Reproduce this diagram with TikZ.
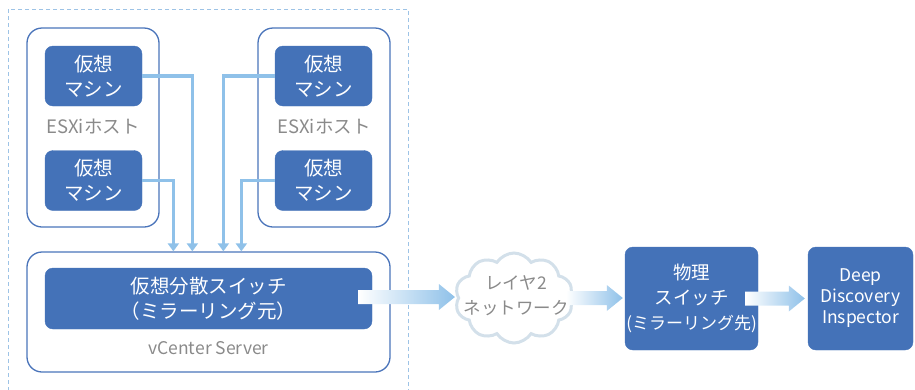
\documentclass[tikz,border=0pt]{standalone}
\usepackage{fontspec}
\setmainfont{Noto Sans CJK JP}
\usetikzlibrary{shapes.symbols,calc,arrows.meta}
\definecolor{dblue}{HTML}{4472B8}
\definecolor{bline}{HTML}{4A74BA}
\definecolor{ablue}{HTML}{8FC1E9}
\definecolor{dashc}{HTML}{9DC3E6}
\definecolor{graytxt}{HTML}{8A8A8A}
\definecolor{cloudc}{HTML}{D3E0EA}
\newcommand\fatarrow[2]{%
  \shade[left color=white,right color=ablue]
    let \p1=(#1), \p2=(#2) in
    (\x1,{\y1+7pt}) -- ({\x2-16pt},{\y1+7pt}) -- ({\x2-16pt},{\y1+13pt}) --
    (\x2,\y1) -- ({\x2-16pt},{\y1-13pt}) -- ({\x2-16pt},{\y1-7pt}) --
    (\x1,{\y1-7pt}) -- cycle;}
\begin{document}
\begin{tikzpicture}[x=1pt,y=-1pt,
  vmbox/.style={fill=dblue,draw=dblue,rounded corners=8pt,minimum width=97pt,minimum height=60pt,
    inner sep=0pt,align=center,text=white,font=\fontsize{19.5}{25}\selectfont},
  hostbox/.style={draw=bline,line width=1.3pt,rounded corners=15pt,minimum width=132pt,minimum height=199pt,inner sep=0pt},
  glabel/.style={text=graytxt,inner sep=0pt},
  flow/.style={draw=ablue,line width=3.5pt,-{Triangle[length=8pt,width=11pt]}},
]
\useasboundingbox (0,0) rectangle (915,389);
\begin{scope}
  \clip (0,0) rectangle (915,389);
  \draw[dashc,line width=1pt,dash pattern=on 4pt off 3pt] (8,9) rectangle (408,400);
\end{scope}

% ESXi hosts
\node[hostbox] (h1) at (93,127.5) {};
\node[hostbox] (h2) at (324,127.5) {};
\node[glabel,font=\fontsize{18.5}{22}\selectfont] (l1) at (93,127) {ESXiホスト};
\node[glabel,font=\fontsize{18.5}{22}\selectfont] (l2) at (324,127) {ESXiホスト};

% VMs
\node[vmbox] (vm1) at (93.5,76) {仮想\\マシン};
\node[vmbox] (vm2) at (93.5,180.5) {仮想\\マシン};
\node[vmbox] (vm3) at (323.5,76) {仮想\\マシン};
\node[vmbox] (vm4) at (323.5,180.5) {仮想\\マシン};

% vCenter
\node[draw=bline,line width=1.3pt,rounded corners=15pt,minimum width=363pt,minimum height=120pt,inner sep=0pt] (vc) at (208.5,312) {};
\node[fill=dblue,draw=dblue,rounded corners=8pt,minimum width=327pt,minimum height=61pt,inner sep=0pt,
  align=center,text=white,font=\fontsize{19.5}{25}\selectfont] (sw) at (208.5,298.5) {仮想分散スイッチ\\（ミラーリング元）};
\node[glabel,font=\fontsize{17.5}{20}\selectfont] (vcl) at (208.5,348) {vCenter Server};

% thin flows
\draw[flow] (vm1.east) -| ($(vc.north west)+(166,0)$);
\draw[flow] (vm2.east) -| ($(vc.north west)+(147,0)$);
\draw[flow] (vm3.west) -| ($(vc.north west)+(197,0)$);
\draw[flow] (vm4.west) -| ($(vc.north west)+(215,0)$);

% cloud
\node[cloud,draw=cloudc,line width=3pt,fill=white,cloud puffs=10,cloud puff arc=115,aspect=1.3,
  minimum width=118pt,minimum height=90pt,inner sep=0pt] (cl) at (514,298) {};
\node[glabel,align=center,font=\fontsize{17.5}{25}\selectfont] (clt) at (516,296) {レイヤ2\\ネットワーク};

% physical switch & DDI
\node[fill=dblue,draw=dblue,rounded corners=8pt,minimum width=133pt,minimum height=103pt,inner sep=0pt,
  align=center,text=white,font=\fontsize{18.5}{25}\selectfont] (ps) at (691.5,298.5) {物理\\スイッチ\\\makebox[110pt]{\fontsize{17}{25}\selectfont(ミラーリング先)}};
\node[fill=dblue,draw=dblue,rounded corners=8pt,minimum width=105pt,minimum height=103pt,inner sep=0pt,
  align=center,text=white,font=\fontsize{17.5}{21}\selectfont] (ddi) at (860.5,298.5) {Deep\\Discovery\\Inspector};

% fat arrows
\fatarrow{$(sw.east)+(-14,-1.5)$}{$(cl.west)+(-2,0)$}
\fatarrow{$(cl.east)+(-5,0)$}{$(ps.west)+(-2,0)$}
\fatarrow{$(ps.east)+(-13,0)$}{$(ddi.west)+(-3,0)$}
\end{tikzpicture}
\end{document}
